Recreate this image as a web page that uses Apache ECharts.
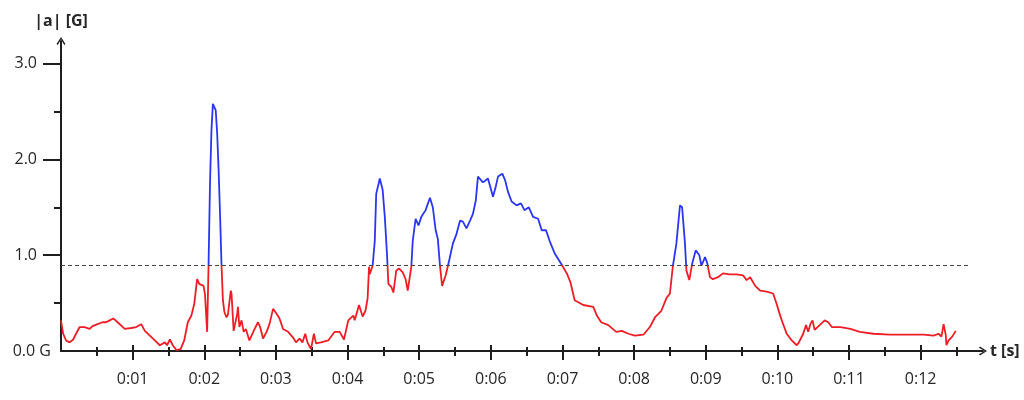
<!DOCTYPE html>
<html>
<head>
<meta charset="utf-8" />
<title>|a| [G]</title>
<script src="https://cdn.jsdelivr.net/npm/echarts@6/dist/echarts.min.js"></script>
<style>
  html, body { margin: 0; padding: 0; background: #fff; }
  #accelChart { width: 1024px; height: 400px; }
</style>
</head>
<body>
<div id="accelChart"></div>
<script>
// time in seconds, |a| in G
const timeSec = [
  0.00, 0.03, 0.07, 0.12, 0.17, 0.21, 0.26, 0.33, 0.40, 0.44, 0.51, 0.58, 0.63, 0.68, 0.73,
  0.79, 0.89, 0.98, 1.05, 1.12, 1.17, 1.24, 1.31, 1.38, 1.45, 1.48, 1.52, 1.56, 1.61, 1.67,
  1.72, 1.77, 1.82, 1.86, 1.90, 1.93, 1.99, 2.01, 2.04,
  2.06, 2.08, 2.10, 2.12, 2.14, 2.16, 2.18, 2.20, 2.22, 2.24,
  2.26, 2.28, 2.31, 2.33, 2.37, 2.38, 2.41, 2.43, 2.46, 2.47, 2.49, 2.52, 2.55, 2.58, 2.63,
  2.69, 2.75, 2.78, 2.82, 2.87, 2.91, 2.96, 3.00, 3.05, 3.10, 3.17, 3.24, 3.28, 3.33, 3.37,
  3.41, 3.44, 3.49, 3.53, 3.56, 3.63, 3.73, 3.82, 3.89, 3.95, 4.01, 4.08, 4.10, 4.16, 4.21,
  4.25, 4.28,
  4.30, 4.31, 4.35, 4.38, 4.40, 4.45, 4.49, 4.52, 4.55, 4.57, 4.61, 4.64, 4.68, 4.72, 4.77,
  4.81, 4.84, 4.89, 4.91, 4.95, 4.99, 5.03, 5.09, 5.15, 5.19, 5.23, 5.26, 5.29, 5.32, 5.37,
  5.42, 5.47, 5.52, 5.57, 5.61, 5.66, 5.71, 5.75, 5.79, 5.82, 5.89, 5.96, 5.99, 6.03, 6.07,
  6.10, 6.16, 6.20, 6.24, 6.29, 6.36, 6.42, 6.47, 6.53, 6.59, 6.66, 6.71, 6.77, 6.82, 6.89,
  6.99, 7.06, 7.11, 7.17, 7.29, 7.43, 7.48, 7.54, 7.64, 7.75, 7.83, 7.92, 8.01, 8.13, 8.22,
  8.29, 8.38, 8.45, 8.50, 8.54, 8.59, 8.64, 8.67, 8.71, 8.73, 8.77, 8.81, 8.86, 8.91, 8.94,
  8.99, 9.02, 9.06, 9.10, 9.17, 9.24, 9.33, 9.43, 9.52, 9.57, 9.62, 9.69, 9.76, 9.85, 9.94,
  9.99, 10.03, 10.08, 10.13, 10.20, 10.27, 10.30, 10.36, 10.40, 10.43, 10.46, 10.49, 10.52, 10.59, 10.66,
  10.71, 10.76, 10.88, 11.02, 11.15, 11.34, 11.57, 11.80, 12.04, 12.18, 12.25, 12.29, 12.32, 12.35, 12.36,
  12.39, 12.44, 12.49
];
const accelG = [
  0.32, 0.18, 0.11, 0.09, 0.12, 0.18, 0.25, 0.25, 0.23, 0.26, 0.28, 0.30, 0.30, 0.32, 0.34,
  0.30, 0.23, 0.24, 0.25, 0.28, 0.21, 0.16, 0.11, 0.06, 0.09, 0.06, 0.12, 0.06, 0.01, 0.02,
  0.11, 0.30, 0.37, 0.49, 0.75, 0.70, 0.68, 0.59, 0.20,
  0.91, 1.75, 2.30, 2.58, 2.60, 2.51, 2.27, 1.89, 1.43, 0.91,
  0.53, 0.41, 0.35, 0.38, 0.63, 0.60, 0.21, 0.28, 0.39, 0.46, 0.25, 0.32, 0.20, 0.23, 0.11,
  0.21, 0.30, 0.25, 0.13, 0.20, 0.28, 0.44, 0.40, 0.34, 0.23, 0.20, 0.14, 0.09, 0.13, 0.09,
  0.18, 0.09, 0.02, 0.18, 0.08, 0.09, 0.11, 0.20, 0.20, 0.12, 0.32, 0.37, 0.32, 0.48, 0.36,
  0.42, 0.55,
  0.88, 0.80, 0.89, 1.15, 1.64, 1.80, 1.68, 1.40, 1.02, 0.70, 0.67, 0.61, 0.84, 0.86, 0.82,
  0.75, 0.63, 0.88, 1.15, 1.38, 1.31, 1.40, 1.47, 1.60, 1.50, 1.26, 1.17, 0.89, 0.68, 0.79,
  0.95, 1.12, 1.22, 1.36, 1.35, 1.28, 1.36, 1.43, 1.57, 1.82, 1.76, 1.80, 1.72, 1.61, 1.72,
  1.82, 1.85, 1.78, 1.66, 1.56, 1.52, 1.54, 1.47, 1.50, 1.40, 1.38, 1.26, 1.26, 1.15, 1.02,
  0.90, 0.81, 0.72, 0.53, 0.48, 0.46, 0.37, 0.30, 0.27, 0.20, 0.21, 0.18, 0.16, 0.17, 0.25,
  0.35, 0.42, 0.55, 0.60, 0.88, 1.12, 1.52, 1.50, 1.12, 0.84, 0.74, 0.91, 1.05, 1.00, 0.89,
  0.98, 0.92, 0.77, 0.75, 0.77, 0.81, 0.80, 0.80, 0.79, 0.74, 0.77, 0.68, 0.63, 0.62, 0.60,
  0.49, 0.39, 0.28, 0.18, 0.11, 0.06, 0.09, 0.18, 0.27, 0.20, 0.28, 0.32, 0.22, 0.27, 0.32,
  0.30, 0.25, 0.25, 0.23, 0.20, 0.18, 0.17, 0.17, 0.17, 0.16, 0.18, 0.15, 0.28, 0.17, 0.06,
  0.11, 0.15, 0.21
];
const threshold = 0.9;
const thresholdEnd = 12.66;
const xMajorTicks = [1, 2, 3, 4, 5, 6, 7, 8, 9, 10, 11, 12];
const xMinorTicks = [0.5, 1.5, 2.5, 3.5, 4.5, 5.5, 6.5, 7.5, 8.5, 9.5, 10.5, 11.5, 12.5];
const yMajorTicks = [1, 2, 3];
const yMinorTicks = [0.5, 1.5, 2.5];
const yLabels = [0, 1, 2, 3];

const FONT = "Open Sans";
const AXIS_COLOR = "#1e1e1e";
const TEXT_COLOR = "#262626";
const arrowPath = "path://M5,0 L10,8 L8.6,9 L5,2.6 L1.4,9 L0,8 Z";

let seriesData = timeSec.map((t, i) => [t, accelG[i]]);

// one x axis per tick style, all sharing the same scale
function xTickAxis(values, len, inside) {
  return {
    type: "value", position: "bottom", min: 0, max: 12.87,
    axisLine: { show: false },
    splitLine: { show: false },
    axisLabel: { show: false },
    axisTick: {
      show: true, inside: inside, length: len, customValues: values,
      lineStyle: { color: AXIS_COLOR, width: 2 },
    },
  };
}

let options = {
  backgroundColor: "#fff",
  animation: false,
  grid: { left: 61, right: 41, top: 41, bottom: 49, outerBoundsMode: "none" },
  visualMap: {
    show: false,
    type: "piecewise",
    seriesIndex: 0,
    dimension: 1,
    pieces: [
      { gte: -10, lte: threshold, color: "#ee1c25" },
      { gt: threshold, lte: 10, color: "#2a35f2" },
    ],
  },
  xAxis: [
    {
      type: "value", position: "bottom", min: 0, max: 12.87,
      name: "t [s]", nameLocation: "end", nameGap: 7,
      nameTextStyle: { fontFamily: FONT, fontSize: 16, fontWeight: "bold", color: TEXT_COLOR, align: "left", verticalAlign: "middle" },
      axisLine: {
        show: true, symbol: ["none", arrowPath], symbolSize: [9, 8],
        lineStyle: { color: AXIS_COLOR, width: 2 },
      },
      splitLine: { show: false },
      axisTick: {
        show: true, length: 9, customValues: xMajorTicks,
        lineStyle: { color: AXIS_COLOR, width: 2 },
      },
      axisLabel: {
        customValues: xMajorTicks, margin: 20,
        fontFamily: FONT, fontSize: 16, color: TEXT_COLOR,
        formatter: (v) => "0:" + String(Math.round(v)).padStart(2, "0"),
      },
    },
    xTickAxis(xMajorTicks, 6, true),
    xTickAxis(xMinorTicks, 5, false),
    xTickAxis(xMinorTicks, 4, true),
  ],
  yAxis: [
    {
      type: "value", position: "left", min: 0, max: 3.235,
      name: "|a| [G]", nameLocation: "end", nameGap: 12,
      nameTextStyle: { fontFamily: FONT, fontSize: 16, fontWeight: "bold", color: TEXT_COLOR },
      axisLine: {
        show: true, symbol: ["none", arrowPath], symbolSize: [9, 8],
        lineStyle: { color: AXIS_COLOR, width: 2 },
      },
      splitLine: { show: false },
      axisTick: {
        show: true, length: 18, customValues: yMajorTicks,
        lineStyle: { color: AXIS_COLOR, width: 2 },
      },
      axisLabel: {
        customValues: yLabels, margin: 10,
        fontFamily: FONT, fontSize: 16, color: TEXT_COLOR,
        formatter: (v) => (v === 0 ? "{z|0.0 G}" : "{n|" + v.toFixed(1) + "}"),
        rich: {
          z: { fontFamily: FONT, fontSize: 16, color: TEXT_COLOR },
          n: { fontFamily: FONT, fontSize: 16, color: TEXT_COLOR, padding: [0, 14, 0, 0] },
        },
      },
    },
    {
      type: "value", position: "left", min: 0, max: 3.235,
      axisLine: { show: false },
      splitLine: { show: false },
      axisLabel: { show: false },
      axisTick: {
        show: true, length: 7, customValues: yMinorTicks,
        lineStyle: { color: AXIS_COLOR, width: 2 },
      },
    },
  ],
  series: [
    {
      name: "|a|",
      type: "line",
      xAxisIndex: 0,
      yAxisIndex: 0,
      data: seriesData,
      showSymbol: false,
      lineStyle: { width: 1.8 },
      markLine: {
        silent: true,
        symbol: ["none", "none"],
        label: { show: false },
        lineStyle: { color: "#444", width: 1, type: [4, 3] },
        data: [[{ coord: [0, threshold] }, { coord: [thresholdEnd, threshold] }]],
      },
    },
  ],
};

let myChart = echarts.init(document.getElementById("accelChart"));
myChart.setOption(options, true);
</script>
</body>
</html>
